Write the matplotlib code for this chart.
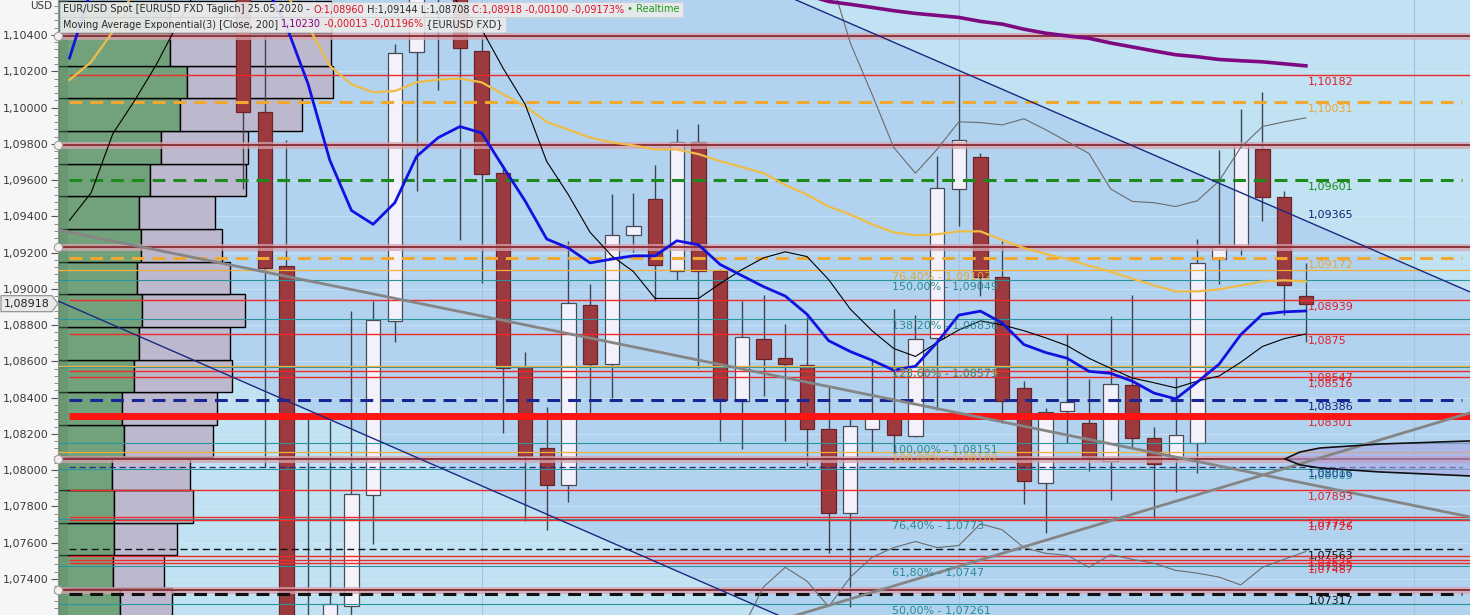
import matplotlib
matplotlib.use("Agg")
import matplotlib.pyplot as plt
from matplotlib.ticker import MultipleLocator, FuncFormatter
from matplotlib.transforms import blended_transform_factory, offset_copy
from matplotlib.patches import Rectangle, Polygon
import numpy as np

plt.rcParams['font.family'] = ['DejaVu Sans']

# ------------------------------------------------------------------ data
candle_idx = list(range(0, 50))
opens = [1.1183, 1.09975, 1.09128, 1.0692, 1.0703, 1.07251, 1.07862, 1.08823, 1.10306, 1.1138,
         1.1070, 1.10312, 1.09638, 1.08569, 1.08123, 1.07917, 1.08910, 1.08584, 1.09295, 1.09497,
         1.09101, 1.09808, 1.09101, 1.08384, 1.08721, 1.08621, 1.08578, 1.08225, 1.07764, 1.08225,
         1.08291, 1.08186, 1.08729, 1.09548, 1.09725, 1.09067, 1.08454, 1.07927, 1.08328, 1.08262,
         1.08050, 1.08471, 1.08177, 1.08062, 1.08149, 1.09164, 1.09234, 1.09769, 1.09508, 1.08960]
highs = [1.1197, 1.10421, 1.09819, 1.08291, 1.08269, 1.08878, 1.08932, 1.1035, 1.1147, 1.1145,
         1.1080, 1.10388, 1.09682, 1.08654, 1.08349, 1.09265, 1.09025, 1.09523, 1.09530, 1.09682,
         1.09882, 1.09908, 1.09110, 1.08932, 1.08965, 1.08808, 1.08845, 1.08464, 1.08286, 1.08606,
         1.08888, 1.08856, 1.09730, 1.10186, 1.09747, 1.09265, 1.08491, 1.08341, 1.08751, 1.08504,
         1.08849, 1.08965, 1.08236, 1.08512, 1.09275, 1.09765, 1.09991, 1.10084, 1.09541, 1.09144]
lows = [1.09551, 1.08019, 1.0637, 1.0636, 1.0636, 1.0719, 1.07595, 1.08704, 1.09541, 1.10099,
        1.09269, 1.09030, 1.08204, 1.07721, 1.07671, 1.07823, 1.08306, 1.08399, 1.09204, 1.08932,
        1.09047, 1.08562, 1.08160, 1.08117, 1.08410, 1.08160, 1.08025, 1.07541, 1.07247, 1.08101,
        1.08095, 1.08182, 1.08334, 1.09345, 1.08960, 1.08258, 1.07812, 1.07656, 1.08149, 1.07997,
        1.07834, 1.08117, 1.07736, 1.07877, 1.07986, 1.09025, 1.09186, 1.09373, 1.08856, 1.08708]
closes = [1.09975, 1.09117, 1.0693, 1.0696, 1.07264, 1.07867, 1.08830, 1.10302, 1.1140, 1.1070,
          1.10328, 1.09634, 1.08562, 1.08080, 1.07917, 1.08921, 1.08584, 1.09297, 1.09347, 1.09134,
          1.09808, 1.09101, 1.08388, 1.08732, 1.08612, 1.08584, 1.08225, 1.07764, 1.08243, 1.08291,
          1.08193, 1.08725, 1.09556, 1.09819, 1.09067, 1.08384, 1.07938, 1.08323, 1.08376, 1.08073,
          1.08475, 1.08177, 1.08036, 1.08193, 1.09143, 1.09234, 1.09797, 1.09508, 1.09019, 1.08918]

ma_idx = list(range(-8, 50))
blue_ma = [1.10273, 1.1065, 1.1085, 1.1100, 1.1108, 1.1110, 1.1105, 1.1095, 1.1082, 1.1068,
           1.1045, 1.1013, 1.0971, 1.09432, 1.09356, 1.09475, 1.09730, 1.09834, 1.09895, 1.09860,
           1.09671, 1.09486, 1.09275, 1.09225, 1.09143, 1.09164, 1.09182, 1.09182, 1.09265, 1.09243,
           1.09134, 1.09073, 1.09012, 1.08960, 1.08860, 1.08714, 1.08654, 1.08606, 1.08551, 1.08573,
           1.08704, 1.08855, 1.08877, 1.08812, 1.08693, 1.08649, 1.08617, 1.08545, 1.08534, 1.08491,
           1.08425, 1.08393, 1.08486, 1.08584, 1.08747, 1.08860, 1.08873, 1.08878]
orange_ma = [1.10152, 1.10251, 1.10420, 1.1065, 1.1078, 1.1085, 1.1088, 1.1087, 1.1082, 1.1074,
             1.1062, 1.1045, 1.1023, 1.10128, 1.10084, 1.10091, 1.10139, 1.10154, 1.10160, 1.10139,
             1.10073, 1.10008, 1.09921, 1.09878, 1.09834, 1.09808, 1.09791, 1.09769, 1.09769, 1.09743,
             1.09704, 1.09671, 1.09638, 1.09573, 1.09519, 1.09454, 1.09410, 1.09356, 1.09312, 1.09295,
             1.09301, 1.09317, 1.09317, 1.09269, 1.09225, 1.09193, 1.09164, 1.09128, 1.09095, 1.09056,
             1.09019, 1.08986, 1.08986, 1.08997, 1.09019, 1.09041, 1.09047, 1.09041]
black_ma = [1.09378, 1.09530, 1.09856, 1.10038, 1.10236, 1.10465, 1.1068, 1.1088, 1.1102, 1.1112,
            1.1118, 1.1118, 1.1114, 1.1108, 1.1100, 1.1092, 1.1083, 1.1072, 1.10562, 1.10432,
            1.10215, 1.10019, 1.09703, 1.09519, 1.09312, 1.09182, 1.09095, 1.08947, 1.08947, 1.08947,
            1.09029, 1.09106, 1.09171, 1.09204, 1.09178, 1.09051, 1.08888, 1.08769, 1.08671, 1.08627,
            1.08704, 1.08773, 1.08823, 1.08801, 1.08769, 1.08730, 1.08686, 1.08617, 1.08562, 1.08508,
            1.08482, 1.08454, 1.08491, 1.08519, 1.08595, 1.08682, 1.08725, 1.08751]
band_up_idx = list(range(27, 50))
band_upper = [1.1075, 1.10356, 1.10073, 1.09780, 1.09638, 1.09769, 1.09921, 1.09917, 1.09904, 1.09938,
              1.09878, 1.09812, 1.09747, 1.09551, 1.09482, 1.09475, 1.09454, 1.09486, 1.09595, 1.09780,
              1.09895, 1.09921, 1.09943]
band_lo_idx = list(range(23, 50))
band_lower = [1.0712, 1.07356, 1.07464, 1.07388, 1.07247, 1.07410, 1.07519, 1.07573, 1.07606, 1.07573,
              1.07584, 1.07704, 1.07671, 1.07573, 1.07541, 1.07530, 1.07464, 1.07534, 1.07508, 1.07486,
              1.07447, 1.07432, 1.07410, 1.07367, 1.07464, 1.07508, 1.07551]
ema_idx = list(range(26, 50))
ema200 = [1.1062, 1.10585, 1.10569, 1.10552, 1.10534, 1.10519, 1.10508, 1.10497, 1.10475, 1.10460,
          1.10432, 1.10410, 1.10395, 1.10382, 1.10356, 1.10334, 1.10312, 1.10291, 1.10280, 1.10265,
          1.10258, 1.10252, 1.10241, 1.10230]

# volume profile (bins of 0.0018 starting at 1.0717)
vp_bin_start = 1.0717
vp_bin_step = 0.0018
vp_green = [62, 55, 56, 56, 54, 66, 64, 76, 81, 84, 79, 83, 81, 92, 103, 122, 129, 112, 112]
vp_total = [114, 106, 119, 135, 132, 155, 159, 174, 172, 187, 172, 164, 157, 188, 190, 244, 275, 273, 273]

# horizontal levels
darkred_levels = [1.10394, 1.09793, 1.09231, 1.08062, 1.07339]
red_levels = [1.10182, 1.08939, 1.0875, 1.08547, 1.08516, 1.07893, 1.07742, 1.07726, 1.07525, 1.07505, 1.07487]
red_thick_level = 1.08301
teal_levels = [1.09049, 1.08836, 1.08571, 1.08151, 1.08005, 1.0773, 1.0747, 1.07261]
orange_levels = [1.09102, 1.08574, 1.08102]
orange_dashed = [1.10031, 1.09172]
green_dashed = 1.09601
navy_dashed = 1.08386
navy_thin_dashed = 1.08016
black_thin_dashed = 1.07563
black_thick_dashed = 1.07317

right_labels = ["1,10182", "1,10031", "1,09601", "1,09365", "1,09172", "1,08939", "1,0875",
                "1,08547", "1,08516", "1,08386", "1,08301", "1,08016", "1,08005", "1,07893",
                "1,07742", "1,07726", "1,07563", "1,07525", "1,07505", "1,07487", "1,07317"]
right_values = [1.10182, 1.10031, 1.09601, 1.09365, 1.09172, 1.08939, 1.0875,
                1.08547, 1.08516, 1.08386, 1.08301, 1.08016, 1.08005, 1.07893,
                1.07742, 1.07726, 1.07563, 1.07525, 1.07505, 1.07487, 1.07317]
right_colors = ["#e0202a", "#e8a838", "#1a8c1a", "#14227a", "#e8a838", "#e0202a", "#e0202a",
                "#e0202a", "#e0202a", "#14227a", "#e0202a", "#14227a", "#2a8f9a", "#e0202a",
                "#e0202a", "#e0202a", "#111111", "#e0202a", "#e0202a", "#e0202a", "#111111"]

fib_teal_text = ["150,00% - 1,09049", "138,20% - 1,08836", "123,60% - 1,08571", "100,00% - 1,08151",
                 "76,40% - 1,0773", "61,80% - 1,0747", "50,00% - 1,07261"]
fib_teal_vals = [1.09049, 1.08836, 1.08571, 1.08151, 1.0773, 1.0747, 1.07261]
fib_orange_text = ["76,40% - 1,09102", "123,60% - 1,08574", "100,00% - 1,08102"]
fib_orange_vals = [1.09102, 1.08574, 1.08102]

# drawn trend lines (anchor points: index, price)
blue_low_line = [(-8.53, 1.08933), (20.15, 1.07436)]
blue_up_line = [(25.5, 1.10593), (56.57, 1.08983)]
grey_down_line = [(-8.53, 1.09325), (56.57, 1.07742)]
grey_up_line = [(25.54, 1.07201), (56.57, 1.08316)]
fan_x = [48.04, 48.73, 49.65, 52.42, 56.57]
fan_upper = [1.08062, 1.08100, 1.08122, 1.08144, 1.08161]
fan_lower = [1.08062, 1.08029, 1.08012, 1.07990, 1.07968]

month_lines = [11, 33, 54]
last_price = 1.08918

# ------------------------------------------------------------------ figure
W, H = 1470, 615
fig = plt.figure(figsize=(W / 100, H / 100), dpi=100, facecolor='#f6f6f6')
ax = fig.add_axes([58 / W, 0, (W - 58) / W, 1])
ax.set_facecolor('#c0e2f2')
XL, XR = -8.53, 56.57
ax.set_xlim(XL, XR)
ax.set_ylim(1.07201, 1.10593)


def line_at(pts, x):
    (x0, y0), (x1, y1) = pts
    return y0 + (y1 - y0) * (np.asarray(x) - x0) / (x1 - x0)


xx = np.array([XL, XR])
ax.fill_between(xx, line_at(blue_low_line, xx), line_at(blue_up_line, xx),
                color='#9fc2ee', alpha=0.45, lw=0, zorder=0)

# grid
for v in np.arange(1.074, 1.1059, 0.002):
    ax.axhline(v, color='#d8eaf6', lw=0.8, alpha=0.6, zorder=0.5)
for m in month_lines:
    ax.axvline(m, color='#a6c3dc', lw=0.8, zorder=0.5)

# volume profile
tr = blended_transform_factory(ax.transAxes, ax.transData)
axw = W - 58
for k in range(len(vp_green)):
    lo = vp_bin_start + k * vp_bin_step
    ax.add_patch(Rectangle((0, lo), vp_green[k] / axw, vp_bin_step, transform=tr,
                           facecolor='#72a27c', edgecolor='black', lw=1.0, zorder=1))
    ax.add_patch(Rectangle((vp_green[k] / axw, lo), (vp_total[k] - vp_green[k]) / axw, vp_bin_step,
                           transform=tr, facecolor='#bcb8cd', edgecolor='black', lw=1.0, zorder=1))
ax.add_patch(Rectangle((0, 0), 10 / axw, 1, transform=ax.transAxes, facecolor='#5e9068',
                       alpha=0.45, lw=0, zorder=1.1))

# candles
o = np.array(opens); c = np.array(closes); h = np.array(highs); l = np.array(lows)
xi = np.array(candle_idx)
up = c >= o
ax.vlines(xi, l, h, color='#3c4450', lw=1, zorder=2)
bw = 0.66
body_lo = np.minimum(o, c)
body_h = np.maximum(np.abs(c - o), 0.00012)
ax.bar(xi[up], body_h[up], bottom=body_lo[up], width=bw, color='#f3f1fb', edgecolor='#4a4a55',
       lw=0.9, zorder=3)
ax.bar(xi[~up], body_h[~up], bottom=body_lo[~up], width=bw, color='#9b3b40', edgecolor='#6e2226',
       lw=0.9, zorder=3)


# horizontal levels
def hline(y, x0, color, lw, ls='-', z=4, alpha=1.0):
    ax.plot([x0, XR], [y, y], color=color, lw=lw, ls=ls, zorder=z, alpha=alpha, solid_capstyle='butt')


for v in teal_levels:
    hline(v, XL, '#2a949c', 0.8)
for v in orange_levels:
    hline(v, XL, '#f0b040', 0.9)
for v in darkred_levels:
    hline(v, XL, '#d6a4b0', 5, alpha=0.75)
    hline(v, XL, '#8a2a30', 1.3)
for v in red_levels:
    hline(v, -8, '#ee2a2a', 1.0)
hline(red_thick_level, -8, '#ff1414', 5)
for v in orange_dashed:
    ax.plot([-8, 56.2], [v, v], color='#f0a830', lw=2.2, dashes=(4.2, 2.6), zorder=4.5)
ax.plot([-8, 56.2], [green_dashed] * 2, color='#1c8a1c', lw=2.2, dashes=(4.2, 2.6), zorder=4.5)
ax.plot([-8, 56.2], [navy_dashed] * 2, color='#1a2696', lw=2.2, dashes=(4.2, 2.6), zorder=4.5)
ax.plot([-8, 56.2], [navy_thin_dashed] * 2, color='#2a2a7a', lw=0.9, dashes=(5, 3), zorder=4.5)
ax.plot([-8, 56.2], [black_thin_dashed] * 2, color='#111111', lw=1.0, dashes=(5, 3), zorder=4.5)
ax.plot([-8, 56.2], [black_thick_dashed] * 2, color='#111111', lw=2.2, dashes=(4.2, 2.6), zorder=4.5)

# indicators
ax.plot(band_up_idx, band_upper, color='#6c6c6c', lw=0.8, zorder=5)
ax.plot(band_lo_idx, band_lower, color='#6c6c6c', lw=0.8, zorder=5)
ax.plot(ma_idx, orange_ma, color='#f0bc48', lw=1.6, zorder=5)
ax.plot(ma_idx, black_ma, color='#000000', lw=0.8, zorder=5)
ax.plot(ma_idx, blue_ma, color='#1212e0', lw=2.0, zorder=5.2)
ax.plot(ema_idx, ema200, color='#7d0a80', lw=2.6, zorder=5)

# trend lines
for pts, col, lw in [(blue_low_line, '#1a2a80', 1.0), (blue_up_line, '#1a2a80', 1.0),
                     (grey_down_line, '#858585', 2.0), (grey_up_line, '#858585', 2.0)]:
    ax.plot(xx, line_at(pts, xx), color=col, lw=lw, zorder=5.5)

# fan object
ax.fill_between(fan_x, fan_lower, fan_upper, color='#a9a2e0', alpha=0.55, lw=0, zorder=5.4)
ax.plot(fan_x, fan_upper, color='#111111', lw=1.2, zorder=5.6)
ax.plot(fan_x, fan_lower, color='#111111', lw=1.2, zorder=5.6)

# right labels
below = offset_copy(ax.transData, fig=fig, x=0, y=-2, units='dots')
for txt, v, col in zip(right_labels, right_values, right_colors):
    va = 'bottom' if txt == "1,09365" else 'top'
    tt = offset_copy(ax.transData, fig=fig, x=0, y=(3 if va == 'bottom' else -2), units='dots')
    ax.text(49.1, v, txt, color=col, fontsize=8, va=va, ha='left', transform=tt, zorder=8)

for txt, v in zip(fib_orange_text, fib_orange_vals):
    ax.text(29.9, v, txt, color='#e0a840', fontsize=8, va='top', ha='left', transform=below, zorder=8)
for txt, v in zip(fib_teal_text, fib_teal_vals):
    ax.text(29.9, v, txt, color='#2a8a96', fontsize=8, va='top', ha='left', transform=below, zorder=8)

# axis styling
for s in ['top', 'right', 'bottom']:
    ax.spines[s].set_visible(False)
ax.spines['left'].set_color('#9a9a9a')
ax.xaxis.set_visible(False)
ax.yaxis.set_major_locator(MultipleLocator(0.002))
ax.yaxis.set_minor_locator(MultipleLocator(0.0004))
ax.yaxis.set_major_formatter(FuncFormatter(lambda v, p: f"{v:.5f}".replace('.', ',')))
ax.tick_params(axis='y', which='major', length=5, color='#555555', labelsize=8, labelcolor='#3a3a3a', pad=2)
ax.tick_params(axis='y', which='minor', length=3, color='#777777')

# circles at left edge for dark red levels
ax.plot([XL] * len(darkred_levels), darkred_levels, 'o', ms=6, mfc='#f4efef', mec='#a0a0a0',
        mew=0.8, clip_on=False, zorder=9)

# current price tag
fig.canvas.draw()
r = fig.canvas.get_renderer()
_, ypx = ax.transData.transform((0, last_price))
ytop = H - ypx
fig.patches.append(Polygon([(1 / W, 1 - (ytop - 8) / H), (52 / W, 1 - (ytop - 8) / H), (58 / W, 1 - ytop / H),
                            (52 / W, 1 - (ytop + 8) / H), (1 / W, 1 - (ytop + 8) / H)], closed=True,
                           facecolor='#e9e9e9', edgecolor='#8a8a8a', lw=0.8,
                           transform=fig.transFigure, zorder=15))
fig.text(27 / W, 1 - ytop / H, "1,08918", fontsize=8, color='#222222', ha='center', va='center', zorder=16)

fig.text(30 / W, 1 - 6 / H, "USD", fontsize=7.5, color='#3a3a3a', ha='left', va='center')


def seg_text(x_px, y_px, segs, size):
    x = x_px
    for s, col in segs:
        t = fig.text(x / W, 1 - y_px / H, s, color=col, fontsize=size, va='center', ha='left', zorder=21)
        bb = t.get_window_extent(renderer=r)
        x = bb.x1
    return x


dark = '#2a2a2a'
red = '#e01020'
x1 = seg_text(63, 9.5, [("EUR/USD Spot [EURUSD FXD Täglich] 25.05.2020 - ", dark), ("O:1,08960", red),
                        (" H:1,09144 L:1,08708 ", dark), ("C:1,08918 -0,00100 -0,09173%", red),
                        (" \u2022 Realtime", '#1a9a1a')], 7.0)
x2 = seg_text(63, 24.5, [("Moving Average Exponential(3) [Close, 200] ", dark), ("1,10230", '#800080'),
                         (" -0,00013 -0,01196%", red), (" {EURUSD FXD}", dark)], 7.0)
for xe, yc in [(x1, 9.5), (x2, 24.5)]:
    fig.patches.append(Rectangle((60 / W, 1 - (yc + 7.5) / H), (xe + 3 - 60) / W, 15 / H,
                                 transform=fig.transFigure, facecolor='#ececec', edgecolor='#d0d0d0',
                                 lw=0.6, alpha=0.9, zorder=20))

fig.savefig("out.png", dpi=100, facecolor=fig.get_facecolor())
